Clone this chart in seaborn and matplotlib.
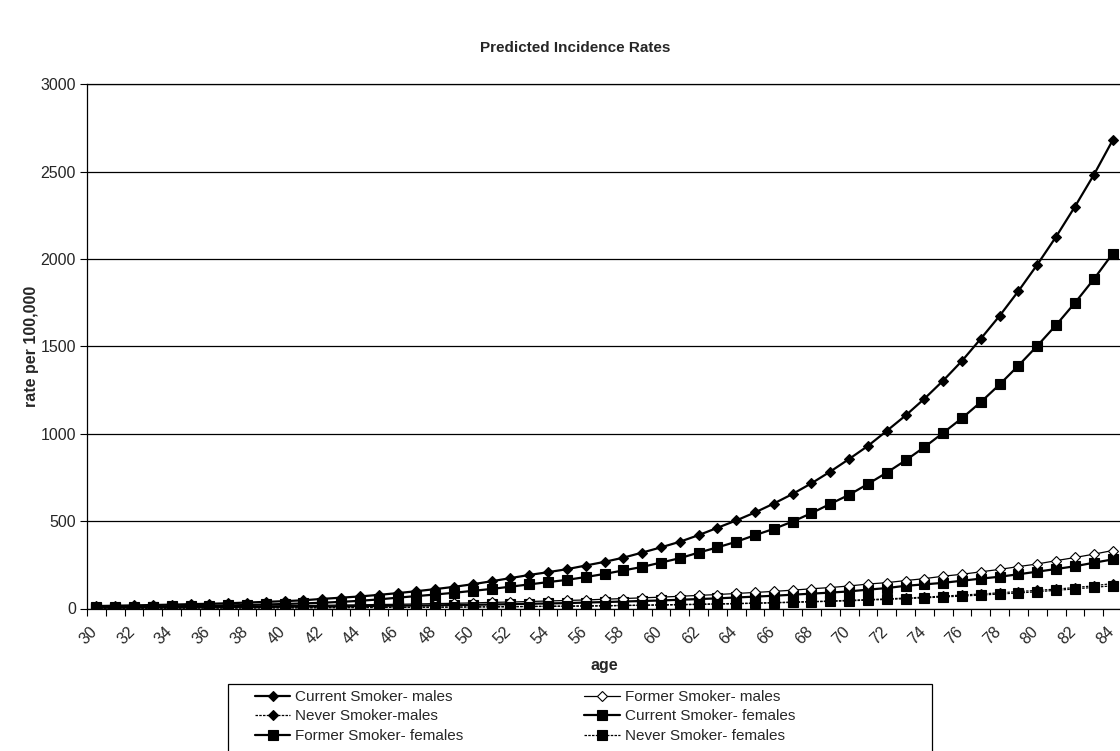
import matplotlib
matplotlib.use("Agg")
import matplotlib.pyplot as plt
from matplotlib.patches import Rectangle
import seaborn as sns
import pandas as pd
import numpy as np

sns.set_style("white")
plt.rcParams['font.family'] = ['Liberation Sans', 'DejaVu Sans']

ages = list(range(30, 85))

current_males = [14, 16, 18, 20, 22, 25, 27, 30, 34, 38, 42, 47, 55, 62, 69, 78, 88, 99, 111, 124,
                 139, 156, 174, 192, 208, 225, 246, 267, 291, 320, 350, 382, 420, 462, 504, 550, 601,
                 656, 717, 784, 856, 931, 1017, 1105, 1201, 1305, 1418, 1545, 1676, 1818, 1969, 2129,
                 2301, 2482, 2680]
former_males = [8, 8, 9, 10, 10, 11, 12, 13, 14, 15, 16, 17, 18, 20, 21, 23, 24, 26, 28, 30,
                32, 35, 37, 40, 43, 46, 49, 53, 57, 61, 65, 70, 75, 80, 86, 92, 98,
                105, 113, 120, 129, 140, 148, 160, 171, 185, 196, 210, 224, 240, 255, 274,
                292, 311, 332]
never_males = [2, 2, 2, 2, 2, 3, 3, 3, 3, 4, 4, 4, 5, 5, 6, 6, 7, 7, 8, 8,
               9, 10, 11, 12, 13, 14, 15, 16, 18, 19, 21, 23, 25, 27, 29, 31, 34,
               37, 40, 43, 47, 51, 55, 60, 65, 71, 77, 83, 90, 97, 104, 111,
               120, 130, 143]
current_females = [8, 9, 10, 11, 13, 14, 16, 18, 20, 23, 26, 29, 33, 38, 44, 52, 62, 71, 80, 90,
                   101, 112, 125, 138, 151, 164, 180, 198, 218, 238, 263, 288, 320, 350, 382, 420, 456,
                   498, 546, 599, 651, 713, 778, 848, 924, 1006, 1090, 1182, 1283, 1391, 1504, 1623,
                   1750, 1885, 2031]
former_females = [5, 5, 5, 6, 6, 7, 7, 8, 9, 9, 10, 11, 12, 13, 14, 15, 16, 17, 18, 20,
                  21, 23, 25, 27, 29, 31, 34, 37, 40, 43, 46, 50, 54, 58, 63, 68, 73,
                  79, 85, 91, 98, 108, 117, 130, 138, 147, 159, 171, 182, 196, 211, 226,
                  242, 262, 281]
never_females = [2, 2, 2, 2, 2, 3, 3, 3, 3, 4, 4, 4, 5, 5, 5, 6, 6, 7, 7, 8,
                 9, 9, 10, 11, 12, 13, 14, 15, 17, 18, 20, 21, 23, 25, 27, 30, 32,
                 35, 38, 41, 44, 48, 52, 56, 61, 66, 71, 77, 83, 89, 96, 104,
                 112, 121, 130]

# legend order is column-first: left column, then right column
series = [
    ("Current Smoker- males", current_males, dict(marker="D", ms=5.4, mfc="black", lw=1.6, ls="-")),
    ("Never Smoker-males", never_males, dict(marker="D", ms=5.4, mfc="black", lw=0.9, ls=(0, (2, 1)))),
    ("Former Smoker- females", former_females, dict(marker="s", ms=6.8, mfc="black", lw=1.6, ls="-")),
    ("Former Smoker- males", former_males, dict(marker="D", ms=5.4, mfc="white", lw=0.9, ls="-")),
    ("Current Smoker- females", current_females, dict(marker="s", ms=6.8, mfc="black", lw=1.6, ls="-")),
    ("Never Smoker- females", never_females, dict(marker="s", ms=6.8, mfc="black", lw=0.9, ls=(0, (2, 1)))),
]

fig = plt.figure(figsize=(11.2, 7.51), dpi=100)
ax = fig.add_axes([87 / 1120, 1 - 608.5 / 751, 1035 / 1120, (608.5 - 84.5) / 751])

x = np.arange(len(ages))
handles = []
for name, vals, st in series:
    df = pd.DataFrame({"x": x, "rate": vals})
    sns.lineplot(data=df, x="x", y="rate", ax=ax, color="black", label=name,
                 marker=st["marker"], markersize=st["ms"], markerfacecolor=st["mfc"],
                 markeredgecolor="black", markeredgewidth=0.8, linewidth=st["lw"],
                 linestyle=st["ls"], legend=False)
    handles.append(ax.lines[-1])

ax.set_xlim(-0.5, len(ages) - 0.5)
ax.set_ylim(0, 3000)
ax.set_yticks(range(0, 3001, 500))
ax.yaxis.grid(True, color="black", linewidth=0.9)
ax.set_axisbelow(True)
# label anchors sit a little left of each category centre, as in the original
ax.set_xticks(x[::2] - 0.35)
ax.set_xticklabels([str(a) for a in ages[::2]], rotation=45, ha="right", rotation_mode="anchor",
                   fontsize=11.5)
ax.set_xticks(np.arange(-0.5, len(ages), 1), minor=True)
ax.tick_params(axis="x", which="major", length=0, pad=11)
ax.tick_params(axis="x", which="minor", length=5, width=0.8, color="black", direction="out")
ax.tick_params(axis="y", length=5, width=0.8, color="black", direction="out", labelsize=11.5, pad=3)
ax.tick_params(bottom=True, left=True, which="both")
for side in ["left", "bottom", "top"]:
    ax.spines[side].set_color("black")
    ax.spines[side].set_linewidth(0.9)
ax.spines["right"].set_visible(False)

ax.set_xlabel("age", fontsize=11.5, fontweight="bold", labelpad=8)
ax.set_ylabel("rate per 100,000", fontsize=11.5, fontweight="bold", labelpad=1)
fig.text(575 / 1120, 1 - 48 / 751, "Predicted Incidence Rates", ha="center", va="center",
         fontsize=11, fontweight="bold")

fig.add_artist(Rectangle((228 / 1120, -0.05), 704 / 1120, 0.05 + (751 - 684) / 751,
                         transform=fig.transFigure, fill=False, edgecolor="black", linewidth=0.9))
fig.legend(handles=handles, loc="upper left", ncol=2,
           bbox_to_anchor=(255 / 1120, 1 - 690 / 751),
           frameon=False, fontsize=11, handlelength=2.3, handletextpad=0.35,
           labelspacing=0.36, columnspacing=7.9, borderpad=0, borderaxespad=0)

fig.savefig("out.png", dpi=100)
